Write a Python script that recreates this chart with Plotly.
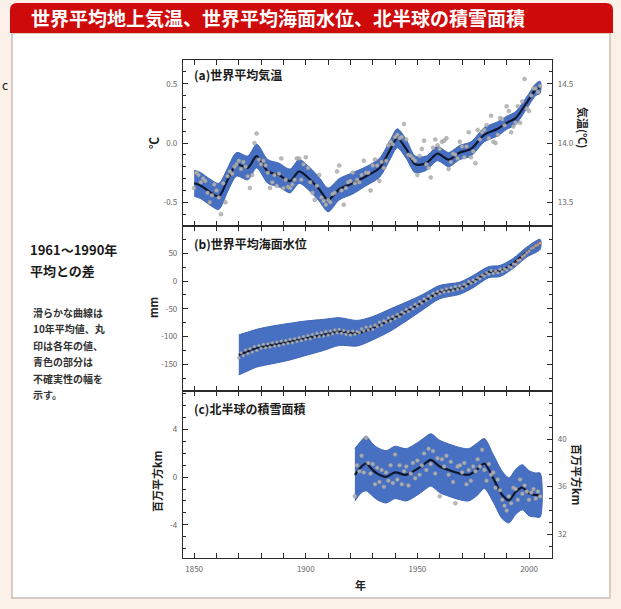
import plotly.graph_objects as go

W, H = 621, 609

# ---------------- data ----------------
# (a) global mean surface temperature, anomaly vs 1961-1990 (deg C)
temp_years = list(range(1850, 2006))
temp_annual = [
    -0.38, -0.25, -0.27, -0.33, -0.30, -0.32, -0.42, -0.50, -0.44, -0.35,
    -0.40, -0.46, -0.60, -0.34, -0.50, -0.28, -0.24, -0.26, -0.20, -0.18,
    -0.15, -0.22, -0.16, -0.20, -0.28, -0.38, -0.27, 0.00, 0.08, -0.14,
    -0.18, -0.15, -0.19, -0.25, -0.38, -0.33, -0.27, -0.36, -0.26, -0.13,
    -0.38, -0.31, -0.37, -0.38, -0.35, -0.31, -0.13, -0.13, -0.31, -0.18,
    -0.12, -0.21, -0.33, -0.42, -0.48, -0.36, -0.27, -0.46, -0.49, -0.52,
    -0.48, -0.50, -0.43, -0.42, -0.24, -0.19, -0.40, -0.52, -0.38, -0.33,
    -0.32, -0.25, -0.34, -0.31, -0.33, -0.27, -0.15, -0.25, -0.25, -0.40,
    -0.19, -0.14, -0.19, -0.32, -0.16, -0.21, -0.15, -0.02, 0.01, -0.01,
    0.05, 0.07, 0.04, 0.05, 0.16, 0.03, -0.10, -0.11, -0.13, -0.15,
    -0.27, -0.11, -0.05, 0.02, -0.18, -0.21, -0.29, -0.04, 0.03, -0.02,
    -0.05, 0.01, 0.02, 0.04, -0.22, -0.16, -0.09, -0.10, -0.13, 0.01,
    -0.03, -0.12, -0.03, 0.09, -0.12, -0.07, -0.17, 0.11, 0.03, 0.09,
    0.11, 0.15, 0.04, 0.23, 0.01, 0.00, 0.07, 0.21, 0.20, 0.15,
    0.31, 0.27, 0.09, 0.14, 0.17, 0.31, 0.17, 0.35, 0.54, 0.29,
    0.27, 0.40, 0.46, 0.46, 0.43, 0.48,
]
temp_smooth_years = [1850, 1853, 1856, 1861, 1865, 1869, 1874, 1878, 1883, 1888,
                     1893, 1897, 1902, 1906, 1910, 1915, 1921, 1927, 1933, 1938,
                     1941, 1945, 1949, 1954, 1959, 1964, 1969, 1974, 1980, 1986,
                     1990, 1994, 1999, 2003, 2005]
temp_smooth = [-0.34, -0.36, -0.40, -0.45, -0.31, -0.18, -0.21, -0.11, -0.24, -0.27,
               -0.32, -0.24, -0.31, -0.39, -0.48, -0.39, -0.34, -0.28, -0.21, -0.05,
               0.04, -0.05, -0.18, -0.17, -0.09, -0.14, -0.08, -0.05, 0.07, 0.12,
               0.17, 0.21, 0.34, 0.45, 0.47]
temp_unc = [0.11, 0.11, 0.11, 0.11, 0.10, 0.10, 0.10, 0.10, 0.10, 0.10,
            0.10, 0.10, 0.10, 0.10, 0.10, 0.09, 0.09, 0.08, 0.08, 0.08,
            0.08, 0.08, 0.07, 0.06, 0.06, 0.06, 0.06, 0.06, 0.06, 0.06,
            0.055, 0.055, 0.05, 0.05, 0.05]

# (b) global mean sea level (mm)
sea_years = list(range(1870, 2006))
sea_annual = [
    -138, -129, -134, -124, -131, -122, -128, -118, -125, -116,
    -121, -114, -120, -113, -119, -111, -117, -110, -116, -108,
    -114, -107, -112, -105, -111, -104, -109, -102, -107, -100,
    -105, -98, -104, -96, -101, -94, -100, -93, -99, -91,
    -97, -90, -95, -88, -93, -87, -94, -89, -96, -91,
    -97, -90, -96, -91, -93, -86, -90, -83, -88, -82,
    -87, -79, -82, -74, -79, -71, -74, -66, -72, -64,
    -68, -60, -64, -56, -58, -51, -55, -47, -50, -42,
    -45, -37, -40, -32, -35, -27, -30, -22, -26, -19,
    -23, -16, -20, -14, -19, -12, -17, -10, -15, -9,
    -13, -6, -9, -1, -4, 2, -1, 6, 4, 11,
    9, 15, 12, 19, 14, 18, 15, 21, 17, 22,
    20, 26, 24, 31, 30, 37, 38, 44, 47, 51,
    54, 58, 60, 63, 65, 68,
]
sea_smooth_years = [1870, 1874, 1878, 1885, 1893, 1900, 1908, 1915, 1923, 1930,
                    1938, 1945, 1952, 1960, 1969, 1975, 1982, 1987, 1993, 1999, 2005]
sea_smooth = [-133, -127, -121, -115, -109, -103, -97, -91, -94, -85,
              -70, -55, -39, -20, -13, -1, 16, 18, 32, 52, 66]
sea_unc = [36, 35, 34, 34, 33, 31, 28, 25, 23, 21,
           20, 17, 14, 12, 11, 11, 10, 10, 9, 9, 9]
sat_years = [1993, 1995, 1997, 1999, 2001, 2003, 2005]
sat_level = [30, 36, 43, 51, 58, 64, 70]

# (c) Northern Hemisphere snow cover (million km2)
snow_years = list(range(1922, 2006))
snow_annual = [
    -1.6, 1.0, 0.5, 1.8, 0.4, 3.3, 1.2, 0.3, 1.1, -0.6,
    0.8, -0.4, 0.6, -0.8, 0.4, -0.3, 1.0, -0.5, 1.9, -0.2,
    1.0, -0.6, 0.5, 0.9, -0.7, 0.3, 1.2, -0.1, 1.4, 0.2,
    1.0, 2.0, 0.6, 2.4, 1.1, 2.2, 0.3, 1.6, -1.6, 1.5,
    0.9, 1.8, 0.2, 1.3, -0.4, -2.2, 0.9, 1.0, 0.4, 1.2,
    -0.6, 0.6, -0.3, 0.9, 0.5, 1.5, 0.9, 2.3, 0.6, -0.3,
    1.1, 0.2, 0.4, -0.9, -0.2, -1.1, -1.9, -2.4, -2.8, -1.6,
    -2.2, -0.9, -1.0, -1.9, -0.2, -1.4, -0.7, -1.2, -1.9, -1.3,
    -1.0, -1.8, -1.2, -1.6,
]
snow_smooth_years = [1922, 1925, 1927, 1930, 1932, 1936, 1940, 1945, 1950, 1953,
                     1956, 1960, 1964, 1969, 1973, 1977, 1980, 1984, 1988, 1991,
                     1994, 1997, 2000, 2003, 2005]
snow_smooth = [0.2, 0.9, 1.15, 0.6, 0.3, 0.03, 0.4, 0.2, 0.7, 1.1,
               1.45, 0.9, 0.6, 0.3, 0.2, 0.7, 1.15, -0.1, -1.5, -1.95,
               -1.25, -0.85, -1.35, -1.5, -1.5]
snow_unc = [2.2, 2.2, 2.3, 2.2, 2.2, 2.2, 2.2, 2.2, 2.2, 2.2,
            2.2, 2.2, 2.2, 2.2, 2.2, 2.2, 2.1, 2.0, 2.0, 1.9,
            1.9, 1.9, 1.9, 1.85, 1.85]

# axis ticks
year_ticks = [1850, 1900, 1950, 2000]
temp_ticks = [-0.5, 0.0, 0.5]
temp_abs_ticks = [13.5, 14.0, 14.5]
sea_ticks = [-150, -100, -50, 0, 50]
snow_ticks = [-4, 0, 4]
snow_abs_ticks = [32, 36, 40]
TEMP_BASE = 14.0      # absolute temperature of the zero anomaly
SNOW_BASE = 36.8      # absolute snow cover of the zero anomaly

# ---------------- styling ----------------
FONT = "Noto Sans CJK JP"
BAND = "#4770c2"
BAND_EDGE = "#3f66b6"
LINE = "#0e1630"
DOT = "#b4b4b4"
PANEL_BG = "#fefee4"
AXIS_C = "#2b2b2b"
TICKFONT = dict(size=8, color="#666666", family=FONT)

fig = go.Figure()


def add_series(xa, ya, years, annual, sm_years, sm, unc, dot_size, extra=None):
    upper = [m + u for m, u in zip(sm, unc)]
    lower = [m - u for m, u in zip(sm, unc)]
    fig.add_trace(go.Scatter(
        x=sm_years + sm_years[::-1], y=upper + lower[::-1],
        mode="lines", fill="toself", fillcolor=BAND,
        line=dict(color=BAND_EDGE, width=1, shape="spline", smoothing=0.8),
        xaxis=xa, yaxis=ya, hoverinfo="skip", showlegend=False))
    if extra is not None:
        fig.add_trace(extra)
    fig.add_trace(go.Scatter(
        x=sm_years, y=sm, mode="lines",
        line=dict(color=LINE, width=2.2, shape="spline", smoothing=0.8),
        xaxis=xa, yaxis=ya, hoverinfo="skip", showlegend=False))
    fig.add_trace(go.Scatter(
        x=years, y=annual, mode="markers",
        marker=dict(size=dot_size, color=DOT, opacity=0.9,
                    line=dict(color="#8d8d8d", width=0.4)),
        xaxis=xa, yaxis=ya, hoverinfo="skip", showlegend=False))


add_series("x", "y", temp_years, temp_annual, temp_smooth_years, temp_smooth,
           temp_unc, 4)
add_series("x2", "y2", sea_years, sea_annual, sea_smooth_years, sea_smooth, sea_unc, 3,
           extra=go.Scatter(x=sat_years, y=sat_level, mode="lines",
                            line=dict(color="#d24a4a", width=2.2, shape="spline"),
                            xaxis="x2", yaxis="y2", hoverinfo="skip", showlegend=False))
add_series("x3", "y3", snow_years, snow_annual, snow_smooth_years, snow_smooth,
           snow_unc, 4)

# empty traces that bind the right-hand axes to their panels
for xa, ya in (("x", "y4"), ("x2", "y5"), ("x3", "y6")):
    fig.add_trace(go.Scatter(x=[], y=[], xaxis=xa, yaxis=ya, showlegend=False))

# ---------------- axes ----------------
XDOM = [183 / W, 552 / W]


def ydom(top, bottom):
    return [1 - bottom / H, 1 - top / H]


common = dict(showline=True, linecolor=AXIS_C, linewidth=1.2, ticks="inside",
              ticklen=5, tickwidth=1.2, tickcolor=AXIS_C, showgrid=False,
              zeroline=False, tickfont=TICKFONT, ticklabelstandoff=3)
MINOR = dict(ticks="inside", ticklen=3, tickwidth=1, tickcolor=AXIS_C)

XR = [1845, 2010.3]
for name, anchor, labels in (("xaxis", "y", False), ("xaxis2", "y2", False),
                             ("xaxis3", "y3", True)):
    fig.layout[name] = dict(common, domain=XDOM, anchor=anchor, range=XR,
                            tickvals=year_ticks, ticktext=[str(v) for v in year_ticks],
                            showticklabels=labels, mirror="allticks",
                            minor=dict(MINOR, dtick=10, tick0=1850, ticklen=4))

TR = [-0.70, 0.70]
SR = [-198, 99]
NR = [-6.8, 7.25]

fig.layout["yaxis"] = dict(common, domain=ydom(60, 226), anchor="x", range=TR,
                           tickvals=temp_ticks, ticktext=["-0.5", "0.0", "0.5"],
                           minor=dict(MINOR, dtick=0.1, tick0=0))
fig.layout["yaxis4"] = dict(common, overlaying="y", side="right", anchor="x",
                            range=[TR[0] + TEMP_BASE, TR[1] + TEMP_BASE],
                            tickvals=temp_abs_ticks, ticktext=["13.5", "14.0", "14.5"],
                            minor=dict(MINOR, dtick=0.1, tick0=0))
fig.layout["yaxis2"] = dict(common, domain=ydom(226, 391), anchor="x2", range=SR,
                            tickvals=sea_ticks, ticktext=[str(v) for v in sea_ticks],
                            minor=dict(MINOR, dtick=25, tick0=0))
fig.layout["yaxis5"] = dict(common, overlaying="y2", side="right", anchor="x2",
                            range=SR, tickvals=sea_ticks, showticklabels=False,
                            minor=dict(MINOR, dtick=25, tick0=0))
fig.layout["yaxis3"] = dict(common, domain=ydom(391, 558), anchor="x3", range=NR,
                            tickvals=snow_ticks, ticktext=[str(v) for v in snow_ticks],
                            minor=dict(MINOR, dtick=1, tick0=0))
fig.layout["yaxis6"] = dict(common, overlaying="y3", side="right", anchor="x3",
                            range=[NR[0] + SNOW_BASE, NR[1] + SNOW_BASE],
                            tickvals=snow_abs_ticks, ticktext=[str(v) for v in snow_abs_ticks],
                            minor=dict(MINOR, dtick=1, tick0=0))

# ---------------- page decoration ----------------
def px(v):
    return v / W


def py(v):
    return 1 - v / H


shapes = []
# white content box
shapes.append(dict(type="rect", xref="paper", yref="paper", layer="below",
                   x0=px(12), x1=px(610), y0=py(598), y1=py(33),
                   fillcolor="white", line=dict(color="#c9bdb4", width=1.5)))
# red heading bar with rounded top corners
x0, x1, yt, yb = px(10), px(613), py(3), py(33)
rx, ry = px(7), 7 / H
shapes.append(dict(type="path", xref="paper", yref="paper", layer="below",
                   path=(f"M {x0},{yb} L {x0},{yt - ry} Q {x0},{yt} {x0 + rx},{yt} "
                         f"L {x1 - rx},{yt} Q {x1},{yt} {x1},{yt - ry} L {x1},{yb} Z"),
                   fillcolor="#cf0a0a", line=dict(width=0)))
# faint white strips behind the panel labels
for top, bot, right in ((67, 84, 400), (235, 252, 436), (400, 416, 432)):
    shapes.append(dict(type="rect", xref="paper", yref="paper", layer="above",
                       x0=px(189), x1=px(right), y0=py(bot), y1=py(top),
                       fillcolor="rgba(255,255,255,0.85)", line=dict(width=0)))

ann = []


def text(x, y, s, size, color="#222222", bold=True, angle=0, xanchor="left",
         yanchor="middle"):
    ann.append(dict(x=px(x), y=py(y), xref="paper", yref="paper", showarrow=False,
                    text=f"<b>{s}</b>" if bold else s, textangle=angle,
                    xanchor=xanchor, yanchor=yanchor,
                    font=dict(family=FONT, size=size, color=color)))


text(29, 18, "世界平均地上気温、世界平均海面水位、北半球の積雪面積", 19, color="white")
text(0, 84, "c", 12, color="#111111", bold=False, xanchor="left")

text(28, 249, "1961～1990年", 13, color="#1a1a1a")
text(28, 270, "平均との差", 13, color="#1a1a1a")
notes = ["滑らかな曲線は", "10年平均値、丸", "印は各年の値、", "青色の部分は",
         "不確実性の幅を", "示す。"]
for i, line in enumerate(notes):
    text(31, 312 + i * 16.5, line, 10, color="#333333")

text(192, 75, "(a)世界平均気温", 12, color="#1a1a1a")
text(192, 243, "(b)世界平均海面水位", 12, color="#1a1a1a")
text(192, 408, "(c)北半球の積雪面積", 12, color="#1a1a1a")

text(153, 143, "℃", 12, angle=-90, xanchor="center")
text(153, 308, "mm", 11, angle=-90, xanchor="center")
text(157, 482, "百万平方km", 11, angle=-90, xanchor="center")
text(583, 127, "気温(℃)", 11, angle=90, xanchor="center")
text(577, 474, "百万平方km", 11, angle=90, xanchor="center")
text(360, 585, "年", 11, xanchor="center")

fig.update_layout(
    width=W, height=H, margin=dict(l=0, r=0, t=0, b=0),
    paper_bgcolor="#fcf1e8", plot_bgcolor=PANEL_BG,
    font=dict(family=FONT), showlegend=False,
    shapes=shapes, annotations=ann,
)

fig.write_html("out.html")
